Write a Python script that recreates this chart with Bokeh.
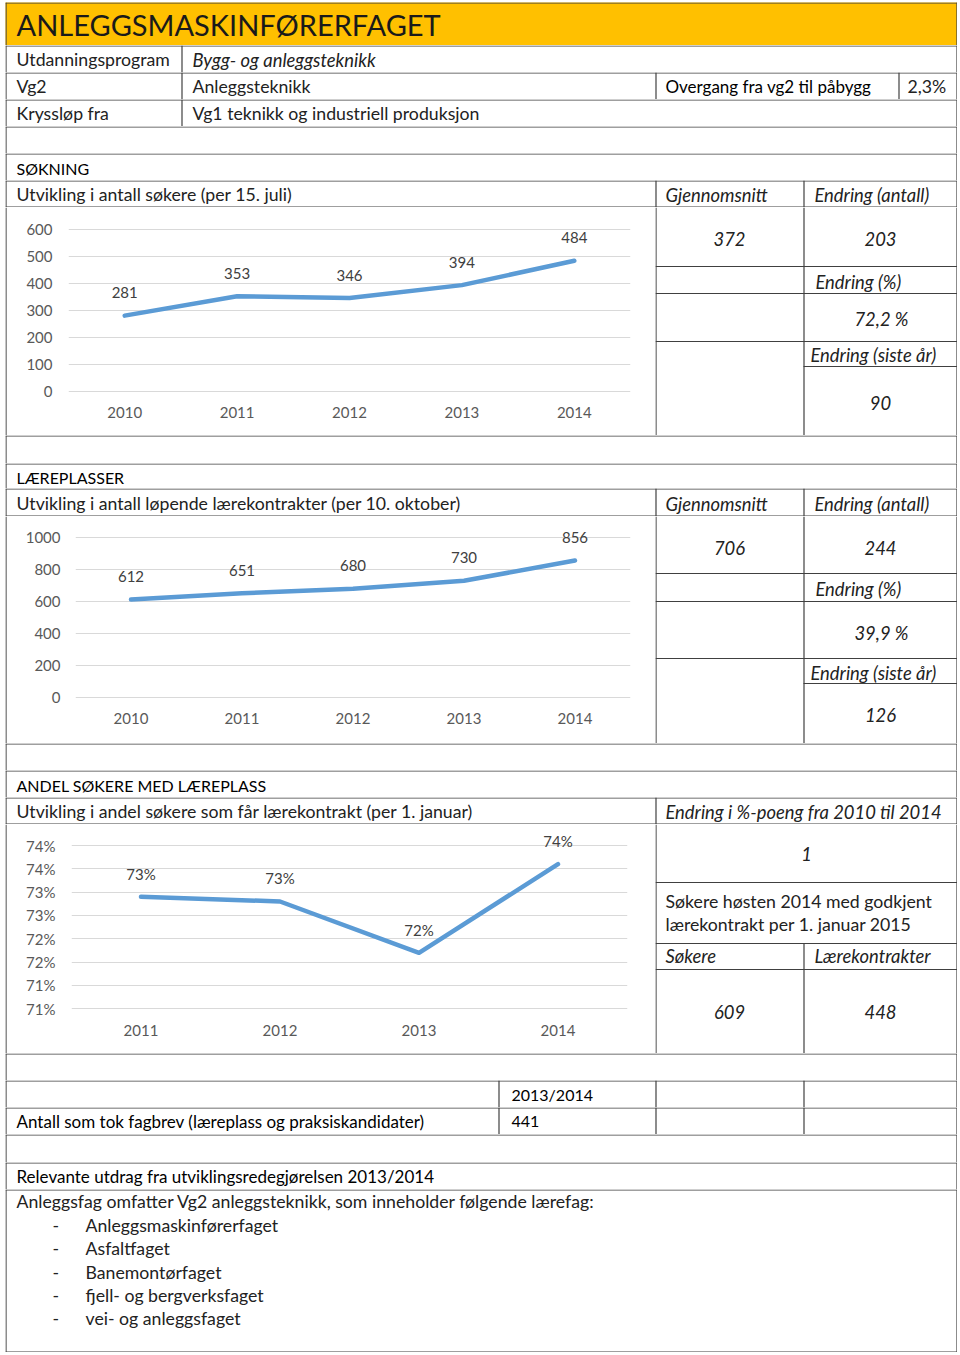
from bokeh.plotting import figure
from bokeh.layouts import column, row
from bokeh.models import Range1d, FixedTicker, FactorRange, Spacer
from bokeh.core.properties import value
from bokeh.embed import file_html
from bokeh.resources import INLINE

# ---------------- data ----------------
soking_years = ["2010", "2011", "2012", "2013", "2014"]
soking_values = [281, 353, 346, 394, 484]
soking_ticks = [0, 100, 200, 300, 400, 500, 600]

lare_years = ["2010", "2011", "2012", "2013", "2014"]
lare_values = [612, 651, 680, 730, 856]
lare_ticks = [0, 200, 400, 600, 800, 1000]

andel_years = ["2011", "2012", "2013", "2014"]
andel_values = [72.9, 72.8, 71.7, 73.6]
andel_ticks = [70.5, 71.0, 71.5, 72.0, 72.5, 73.0, 73.5, 74.0]
andel_tick_labels = ["71%", "71%", "72%", "72%", "73%", "73%", "74%", "74%"]

soking_stats = ["372", "203", "Endring (%)", "72,2 %", "Endring (siste år)", "90"]
lare_stats = ["706", "244", "Endring (%)", "39,9 %", "Endring (siste år)", "126"]
andel_stats = ["1", "Søkere høsten 2014 med godkjent", "lærekontrakt per 1. januar 2015",
               "Søkere", "Lærekontrakter", "609", "448"]
lare_fag = ["Anleggsmaskinførerfaget", "Asfaltfaget", "Banemontørfaget",
            "fjell- og bergverksfaget", "vei- og anleggsfaget"]

# ---------------- style ----------------
FONT = "Lato"
LINE_C = "#404040"
LW = 1.2
W = 952
RW = W - 650
BLUE = "#5B9BD5"
BODY = dict(size="17.7px", style="normal", color="#222222")
ITAL = dict(size="18.4px", style="italic", color="#222222")
HEAD = dict(size="17px", style="normal", color="#000000")
CAPS = dict(size="16px", style="normal", color="#000000")
TITLE = dict(size="29px", style="normal", color="#1a1a1a")


def no_align(p):
    if "frame_align" in p.properties():
        p.frame_align = False
    return p


def base_fig(w, h, bg="white"):
    p = figure(width=w, height=h, x_range=Range1d(0, w), y_range=Range1d(h, 0),
               output_backend="svg", toolbar_location=None, title=None,
               x_axis_location=None, y_axis_location=None, min_border=0)
    p.grid.visible = False
    p.outline_line_color = None
    p.background_fill_color = bg
    p.border_fill_color = bg
    return no_align(p)


def draw(p, segs, texts):
    if segs:
        x0, y0, x1, y1 = zip(*segs)
        p.segment(x0=list(x0), y0=list(y0), x1=list(x1), y1=list(y1),
                  line_color=LINE_C, line_width=LW)
    for (x, y, s, st, *al) in texts:
        p.text(x=[x], y=[y], text=[s], text_font=value(FONT),
               text_font_size=st["size"], text_font_style=st["style"],
               text_color=st["color"], text_align=(al[0] if al else "left"),
               text_baseline="middle")


def row_fig(h, extra_segs=(), texts=(), top=True, bottom=False, bg="white"):
    p = base_fig(W, h, bg)
    segs = [(0.5, 0, 0.5, h), (W - 0.5, 0, W - 0.5, h)]
    if top:
        segs.append((0, 0.5, W, 0.5))
    if bottom:
        segs.append((0, h - 0.5, W, h - 0.5))
    segs += list(extra_segs)
    draw(p, segs, texts)
    return p


def vdiv(x, h, y0=0):
    return (x + 0.5, y0, x + 0.5, h)


def chart_fig(h, factors, vals, labels, ticks, overrides, frame_l, frame_r,
              frame_t, frame_b, grid_top, grid_bot, vmin, vmax, ystand, xstand):
    w = 648
    px = (grid_bot - grid_top) / (vmax - vmin)
    y0 = vmin - (frame_b - grid_bot) / px
    y1 = vmax + (grid_top - frame_t) / px
    p = figure(width=w, height=h, x_range=FactorRange(*factors),
               y_range=Range1d(y0, y1), output_backend="svg",
               toolbar_location=None, title=None,
               min_border_left=frame_l, min_border_right=w - frame_r,
               min_border_top=frame_t, min_border_bottom=h - frame_b)
    no_align(p)
    p.outline_line_color = None
    p.background_fill_color = "white"
    p.border_fill_color = "white"
    p.xgrid.visible = False
    p.ygrid.ticker = FixedTicker(ticks=ticks)
    p.ygrid.grid_line_color = "#D9D9D9"
    p.ygrid.grid_line_width = 1
    p.yaxis.ticker = FixedTicker(ticks=ticks)
    if overrides:
        p.yaxis.major_label_overrides = overrides
    for ax, st in ((p.xaxis, xstand), (p.yaxis, ystand)):
        ax.axis_line_color = None
        ax.major_tick_line_color = None
        ax.minor_tick_line_color = None
        ax.major_tick_out = 0
        ax.major_tick_in = 0
        ax.major_label_standoff = st
        ax.major_label_text_font = FONT
        ax.major_label_text_font_size = "15px"
        ax.major_label_text_color = "#595959"
    p.line(x=factors, y=vals, line_color=BLUE, line_width=4.5,
           line_join="round", line_cap="round")
    p.text(x=factors, y=vals, text=labels, y_offset=-23, text_font=value(FONT),
           text_font_size="15px", text_color="#404040", text_align="center",
           text_baseline="middle")
    return p


def strip(h):
    p = base_fig(2, h)
    draw(p, [(0.5, 0, 0.5, h)], [])
    return p


def right_table(h, segs, texts):
    p = base_fig(RW, h)
    s = [(0.5, 0, 0.5, h), (RW - 0.5, 0, RW - 0.5, h)] + segs
    draw(p, s, texts)
    return p


def chart_row(h, c, t):
    return row(column(strip(h), spacing=0), column(c, spacing=0),
               column(t, spacing=0), spacing=0)


rows = []

# title and programme rows
rows.append(row_fig(43, texts=[(11, 22, "ANLEGGSMASKINFØRERFAGET", TITLE)], bg="#FFC000"))
rows.append(row_fig(27, [vdiv(176, 27)], [(11, 14, "Utdanningsprogram", BODY),
                                          (187, 14, "Bygg- og anleggsteknikk", ITAL)]))
rows.append(row_fig(27, [vdiv(176, 27), vdiv(650, 27), vdiv(893, 27)],
                    [(11, 14, "Vg2", BODY), (187, 14, "Anleggsteknikk", BODY),
                     (660, 14, "Overgang fra vg2 til påbygg", HEAD),
                     (902, 14, "2,3%", BODY)]))
rows.append(row_fig(27, [vdiv(176, 27)], [(11, 14, "Kryssløp fra", BODY),
                                          (187, 14, "Vg1 teknikk og industriell produksjon", BODY)]))
rows.append(row_fig(27))
rows.append(row_fig(27, texts=[(11, 15, "SØKNING", CAPS)]))
rows.append(row_fig(27, [vdiv(650, 27), vdiv(798, 27)],
                    [(11, 14, "Utvikling i antall søkere (per 15. juli)", BODY),
                     (660, 14, "Gjennomsnitt", ITAL), (809, 14, "Endring (antall)", ITAL)],
                    bottom=True))

# chart 1
h1 = 228
c1 = chart_fig(h1, soking_years, soking_values, [str(v) for v in soking_values],
               soking_ticks, None, 61, 623, 4, 194, 22, 184, 0, 600, 16, 5)
t1 = right_table(h1,
                 [vdiv(148, h1), (0, 59, RW, 59), (0, 86, RW, 86), (0, 134, RW, 134),
                  (148, 159, RW, 159)],
                 [(74, 31, soking_stats[0], ITAL, "center"),
                  (225, 31, soking_stats[1], ITAL, "center"),
                  (160, 74, soking_stats[2], ITAL),
                  (226, 111, soking_stats[3], ITAL, "center"),
                  (155, 147, soking_stats[4], ITAL),
                  (225, 195, soking_stats[5], ITAL, "center")])
rows.append(chart_row(h1, c1, t1))

rows.append(row_fig(28))
rows.append(row_fig(25, texts=[(11, 14, "LÆREPLASSER", CAPS)]))
rows.append(row_fig(28, [vdiv(650, 28), vdiv(798, 28)],
                    [(11, 15, "Utvikling i antall løpende lærekontrakter (per 10. oktober)", BODY),
                     (660, 15, "Gjennomsnitt", ITAL), (809, 15, "Endring (antall)", ITAL)],
                    bottom=True))

# chart 2
h2 = 227
c2 = chart_fig(h2, lare_years, lare_values, [str(v) for v in lare_values],
               lare_ticks, None, 68, 623, 4, 191, 21, 181, 0, 1000, 15, 5)
t2 = right_table(h2,
                 [vdiv(148, h2), (0, 57, RW, 57), (0, 85, RW, 85), (0, 142, RW, 142),
                  (148, 167, RW, 167)],
                 [(74, 31, lare_stats[0], ITAL, "center"),
                  (225, 31, lare_stats[1], ITAL, "center"),
                  (160, 72, lare_stats[2], ITAL),
                  (226, 116, lare_stats[3], ITAL, "center"),
                  (155, 156, lare_stats[4], ITAL),
                  (225, 198, lare_stats[5], ITAL, "center")])
rows.append(chart_row(h2, c2, t2))

rows.append(row_fig(27))
rows.append(row_fig(27, texts=[(11, 15, "ANDEL SØKERE MED LÆREPLASS", CAPS)]))
rows.append(row_fig(27, [vdiv(650, 27)],
                    [(11, 14, "Utvikling i andel søkere som får lærekontrakt (per 1. januar)", BODY),
                     (660, 14, "Endring i %-poeng fra 2010 til 2014", ITAL)],
                    bottom=True))

# chart 3
h3 = 229
c3 = chart_fig(h3, andel_years, andel_values, [f"{round(v)}%" for v in andel_values],
               andel_ticks, dict(zip(andel_ticks, andel_tick_labels)),
               64, 620, 4, 195, 21, 184.3, 70.5, 74.0, 16, 5)
t3 = right_table(h3,
                 [(0, 58, RW, 58), (0, 119, RW, 119), (0, 145, RW, 145), vdiv(148, h3, 119)],
                 [(151, 29, andel_stats[0], ITAL, "center"),
                  (10, 77, andel_stats[1], BODY),
                  (10, 100, andel_stats[2], BODY),
                  (10, 131, andel_stats[3], ITAL),
                  (159, 131, andel_stats[4], ITAL),
                  (74, 187, andel_stats[5], ITAL, "center"),
                  (225, 187, andel_stats[6], ITAL, "center")])
rows.append(chart_row(h3, c3, t3))

rows.append(row_fig(27))
rows.append(row_fig(27, [vdiv(493, 27), vdiv(650, 27), vdiv(798, 27)],
                    [(506, 14, "2013/2014", CAPS)]))
rows.append(row_fig(27, [vdiv(493, 27), vdiv(650, 27), vdiv(798, 27)],
                    [(11, 14, "Antall som tok fagbrev (læreplass og praksiskandidater)", HEAD),
                     (506, 14, "441", CAPS)]))
rows.append(row_fig(28))
rows.append(row_fig(27, texts=[(11, 14, "Relevante utdrag fra utviklingsredegjørelsen 2013/2014", HEAD)]))

body_texts = [(11, 12, "Anleggsfag omfatter Vg2 anleggsteknikk, som inneholder følgende lærefag:", BODY)]
for i, fag in enumerate(lare_fag):
    yy = 36 + i * 23.3
    body_texts.append((47, yy, "-", BODY))
    body_texts.append((80, yy, fag, BODY))
rows.append(row_fig(163, texts=body_texts, bottom=True))

page = column(Spacer(width=W, height=2),
              row(Spacer(width=5, height=10), column(*rows, spacing=0), spacing=0),
              spacing=0)

open("out.html", "w").write(file_html(page, INLINE))
